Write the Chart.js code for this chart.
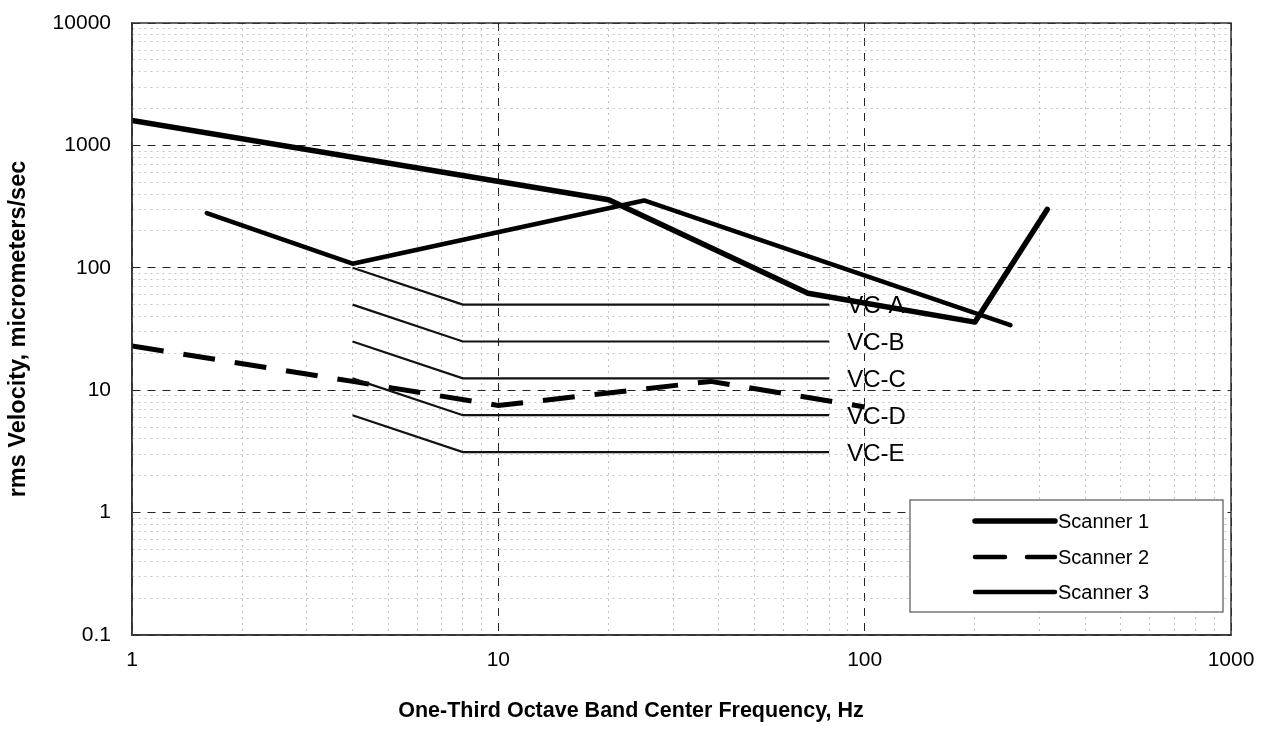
<!DOCTYPE html>
<html>
<head>
<meta charset="utf-8">
<script src="https://cdn.jsdelivr.net/npm/chart.js@4.4.1/dist/chart.umd.min.js"></script>
<style>
  html, body { margin: 0; padding: 0; background: #fff; }
  #wrap { width: 1270px; height: 729px; }
</style>
</head>
<body>
<div id="wrap"><canvas id="vibration"></canvas></div>
<script>
const scanner1Freq = [1, 20, 70, 200, 315];
const scanner1Vel = [1600, 360, 62, 36, 300];
const scanner2Freq = [1, 4, 10, 38, 100];
const scanner2Vel = [23, 11.8, 7.5, 11.8, 7.3];
const scanner3Freq = [1.6, 4, 25, 250];
const scanner3Vel = [280, 108, 355, 34];

// Vibration criteria curves
const vcFreq = [4, 8, 80];
const vcNames = ['VC-A', 'VC-B', 'VC-C', 'VC-D', 'VC-E'];
const vcA = [100, 50, 50];
const vcB = [50, 25, 25];
const vcC = [25, 12.5, 12.5];
const vcD = [12.5, 6.25, 6.25];
const vcE = [6.25, 3.12, 3.12];

const legendNames = ['Scanner 1', 'Scanner 2', 'Scanner 3'];
const xTickLabels = ['1', '10', '100', '1000'];
const yTickLabels = ['0.1', '1', '10', '100', '1000', '10000'];
const xTitle = 'One-Third Octave Band Center Frequency, Hz';
const yTitle = 'rms Velocity, micrometers/sec';

const FONT = '"Liberation Sans", Arial, Helvetica, sans-serif';

// helpers
const toPoints = (xs, ys) => xs.map((x, i) => ({ x: x, y: ys[i] }));
const isMajor = v => Math.abs(Math.log10(v) - Math.round(Math.log10(v))) < 1e-9;

// 1,2,...,9 per decade for the grid
function decadeTicks(minExp, maxExp) {
    const out = [];
    for (let e = minExp; e < maxExp; e++) {
        for (let k = 1; k < 10; k++) out.push({ value: +(k * Math.pow(10, e)).toPrecision(6) });
    }
    out.push({ value: Math.pow(10, maxExp) });
    return out;
}

const vcSeries = [vcA, vcB, vcC, vcD, vcE].map((vals, i) => ({
    label: vcNames[i],
    vcLabel: vcNames[i],
    data: toPoints(vcFreq, vals),
    showLine: true,
    borderColor: '#111',
    borderWidth: 2.2,
    pointRadius: 0
}));

const datasets = [
    ...vcSeries,
    {
        label: legendNames[1],
        data: toPoints(scanner2Freq, scanner2Vel),
        showLine: true,
        borderColor: '#000',
        borderWidth: 5,
        borderDash: [32, 20],
        pointRadius: 0
    },
    {
        label: legendNames[2],
        data: toPoints(scanner3Freq, scanner3Vel),
        showLine: true,
        borderColor: '#000',
        borderWidth: 4.5,
        borderCapStyle: 'round',
        borderJoinStyle: 'round',
        pointRadius: 0
    },
    {
        label: legendNames[0],
        data: toPoints(scanner1Freq, scanner1Vel),
        showLine: true,
        borderColor: '#000',
        borderWidth: 5.5,
        borderCapStyle: 'round',
        borderJoinStyle: 'round',
        pointRadius: 0
    }
];

// VC labels under the data, legend box + frame + x title on top
const overlay = {
    id: 'overlay',
    beforeDatasetsDraw(chart) {
        const ctx = chart.ctx;
        ctx.save();
        ctx.font = '24px ' + FONT;
        ctx.fillStyle = '#000';
        ctx.textAlign = 'left';
        ctx.textBaseline = 'alphabetic';
        chart.data.datasets.forEach((ds, i) => {
            if (!ds.vcLabel) return;
            const pts = chart.getDatasetMeta(i).data;
            const p = pts[pts.length - 1];
            ctx.fillText(ds.vcLabel, p.x + 18, p.y + 8.5);
        });
        ctx.restore();
    },
    afterDraw(chart) {
        const ctx = chart.ctx;
        const a = chart.chartArea;
        ctx.save();

        // plot frame
        ctx.strokeStyle = '#333';
        ctx.lineWidth = 1.5;
        ctx.setLineDash([]);
        ctx.strokeRect(a.left, a.top, a.right - a.left, a.bottom - a.top);

        // legend box
        const bw = 313, bh = 112;
        const bx = a.right - 8 - bw;
        const by = a.bottom - 23 - bh;
        ctx.fillStyle = '#fff';
        ctx.fillRect(bx, by, bw, bh);
        ctx.strokeStyle = '#555';
        ctx.lineWidth = 1.2;
        ctx.strokeRect(bx, by, bw, bh);

        const rows = [
            { name: legendNames[0], width: 5.5, dash: [] },
            { name: legendNames[1], width: 4.5, dash: [30, 22] },
            { name: legendNames[2], width: 4.5, dash: [] }
        ];
        const rowY = [21, 57, 92];
        ctx.font = '20px ' + FONT;
        ctx.textAlign = 'left';
        ctx.textBaseline = 'alphabetic';
        rows.forEach((r, i) => {
            const y = by + rowY[i];
            ctx.strokeStyle = '#000';
            ctx.lineWidth = r.width;
            ctx.lineCap = 'round';
            ctx.setLineDash(r.dash);
            ctx.beginPath();
            ctx.moveTo(bx + 65, y);
            ctx.lineTo(bx + 145, y);
            ctx.stroke();
            ctx.setLineDash([]);
            ctx.fillStyle = '#000';
            ctx.fillText(r.name, bx + 148, y + 7);
        });

        // x axis title (centred on the page, not the plot)
        ctx.font = 'bold 21.5px ' + FONT;
        ctx.textAlign = 'center';
        ctx.fillStyle = '#000';
        ctx.fillText(xTitle, 631, 717);

        ctx.restore();
    }
};

const gridColor = c => (c.tick && isMajor(c.tick.value)) ? '#222' : '#c4c4c4';
const gridDash = c => (c.tick && isMajor(c.tick.value)) ? [8, 7] : [2, 4];

// fixed plot box: drop the label overhang padding the scales ask for
const noOverhang = s => {
    s.paddingTop = 0;
    s.paddingBottom = 0;
    s.paddingLeft = 0;
    s.paddingRight = 0;
};

new Chart(document.getElementById('vibration'), {
    type: 'scatter',
    data: { datasets: datasets },
    options: {
        responsive: true,
        maintainAspectRatio: false,
        animation: false,
        layout: { padding: { top: 23, right: 39, bottom: 0, left: 0 } },
        plugins: {
            legend: { display: false },
            tooltip: { enabled: false }
        },
        scales: {
            x: {
                type: 'logarithmic',
                min: 1,
                max: 1000,
                afterBuildTicks: s => { s.ticks = decadeTicks(0, 3); },
                afterFit: s => { s.height = 94; noOverhang(s); },
                ticks: {
                    autoSkip: false,
                    maxRotation: 0,
                    padding: 13,
                    color: '#000',
                    font: { family: FONT, size: 21 },
                    callback: v => isMajor(v) ? xTickLabels[Math.round(Math.log10(v))] : ''
                },
                grid: { color: gridColor, lineWidth: 1, drawTicks: false },
                border: { display: true, color: '#444', width: 1.5, dash: gridDash }
            },
            y: {
                type: 'logarithmic',
                min: 0.1,
                max: 10000,
                afterBuildTicks: s => { s.ticks = decadeTicks(-1, 4); },
                afterFit: s => { s.width = 132; noOverhang(s); },
                title: {
                    display: true,
                    text: yTitle,
                    color: '#000',
                    font: { family: FONT, size: 23.5, weight: 'bold' },
                    padding: { top: 4, bottom: 0 }
                },
                ticks: {
                    autoSkip: false,
                    padding: 21,
                    color: '#000',
                    font: { family: FONT, size: 21 },
                    callback: v => isMajor(v) ? yTickLabels[Math.round(Math.log10(v)) + 1] : ''
                },
                grid: { color: gridColor, lineWidth: 1, drawTicks: false },
                border: { display: true, color: '#444', width: 1.5, dash: gridDash }
            }
        }
    },
    plugins: [overlay]
});
</script>
</body>
</html>
